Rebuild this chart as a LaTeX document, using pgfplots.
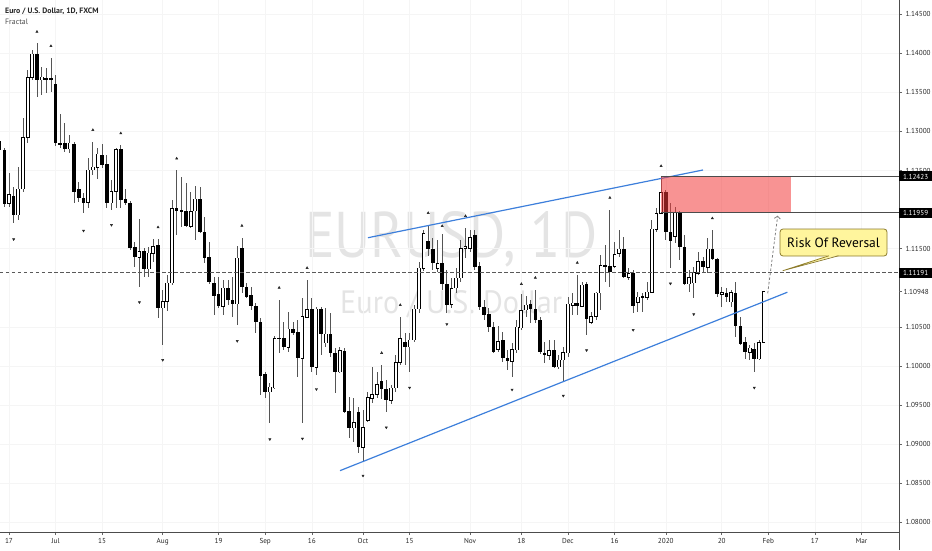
\documentclass[border=0pt]{standalone}
\usepackage{pgfplots}
\pgfplotsset{compat=1.18}
\usepackage{pgfplotstable}
\usepackage{fontspec}
\setmainfont{PT Sans}
\usetikzlibrary{arrows.meta}
\definecolor{wick}{HTML}{555555}
\definecolor{trend}{HTML}{3D7FDB}
\definecolor{zone}{HTML}{F23A3A}
\definecolor{callfill}{HTML}{FFF59D}
\definecolor{calldraw}{HTML}{8C7B2E}
\definecolor{wm}{HTML}{E4E4E4}

% i open high low close (trading-day index, Jun 17 2019 = 0)
\pgfplotstableread{
i o h l c
0 1.12085 1.12469 1.12033 1.12200
2 1.11931 1.12545 1.11867 1.12264
3 1.12264 1.13173 1.12225 1.12929
4 1.12929 1.13787 1.12853 1.13697
5 1.13697 1.14043 1.13659 1.13992
7 1.13659 1.13825 1.13467 1.13697
13 1.12776 1.12955 1.12725 1.12853
17 1.12085 1.12661 1.12021 1.12507
18 1.12507 1.12865 1.12443 1.12545
19 1.12545 1.12789 1.12392 1.12712
22 1.12085 1.12379 1.11995 1.12238
23 1.12238 1.12789 1.12021 1.12776
28 1.11393 1.11880 1.11009 1.11470
30 1.11240 1.11521 1.11137 1.11445
31 1.11445 1.11624 1.11329 1.11534
33 1.10741 1.10971 1.10267 1.10830
34 1.10830 1.11163 1.10702 1.11061
35 1.11061 1.12123 1.11035 1.12021
39 1.11790 1.12225 1.11765 1.11982
40 1.11982 1.12302 1.11611 1.12136
46 1.10766 1.11099 1.10651 1.10997
49 1.10792 1.11534 1.10523 1.11381
56 1.09665 1.09781 1.09269 1.09729
57 1.09717 1.10382 1.09704 1.10356
60 1.10241 1.10689 1.10177 1.10472
63 1.10101 1.10869 1.09269 1.10638
64 1.10625 1.11099 1.10613 1.10728
66 1.09985 1.10753 1.09883 1.10728
68 1.10293 1.10741 1.10241 1.10408
71 1.09921 1.10241 1.09909 1.10190
74 1.09205 1.09589 1.09025 1.09281
76 1.08961 1.09435 1.08769 1.09217
77 1.09307 1.09665 1.09281 1.09601
78 1.09589 1.09985 1.09525 1.09640
79 1.09640 1.09921 1.09589 1.09768
82 1.09563 1.09755 1.09512 1.09717
83 1.09717 1.10139 1.09665 1.10049
84 1.10049 1.10625 1.10011 1.10356
86 1.10241 1.10421 1.09921 1.10331
87 1.10331 1.10779 1.10305 1.10728
88 1.10728 1.11329 1.10677 1.11253
89 1.11253 1.11739 1.11214 1.11701
92 1.11253 1.11611 1.11201 1.11317
95 1.10792 1.11125 1.10741 1.10997
96 1.10997 1.11253 1.10933 1.11125
97 1.11125 1.11611 1.11073 1.11509
98 1.11509 1.11765 1.11381 1.11534
99 1.11509 1.11739 1.11457 1.11649
105 1.10216 1.10510 1.10177 1.10318
108 1.10062 1.10293 1.09857 1.10216
109 1.10203 1.10587 1.10165 1.10497
110 1.10485 1.10920 1.10459 1.10715
111 1.10715 1.10894 1.10625 1.10779
116 1.10139 1.10331 1.10075 1.10203
118 1.09985 1.10139 1.09960 1.10075
119 1.10075 1.10241 1.09806 1.10165
120 1.10165 1.10881 1.10113 1.10792
121 1.10779 1.10933 1.10651 1.10805
123 1.10766 1.11073 1.10753 1.11035
125 1.10561 1.10689 1.10536 1.10638
126 1.10638 1.10945 1.10587 1.10933
127 1.10933 1.11419 1.10715 1.11291
130 1.11278 1.11585 1.11253 1.11432
131 1.11432 1.11739 1.11393 1.11496
133 1.11137 1.11253 1.11099 1.11189
135 1.10805 1.10945 1.10689 1.10881
137 1.10869 1.11073 1.10843 1.10945
138 1.10945 1.11867 1.10933 1.11752
139 1.11752 1.12021 1.11713 1.11957
140 1.11957 1.12423 1.11944 1.12225
143 1.11662 1.12033 1.11573 1.11957
146 1.11048 1.11227 1.10945 1.11137
147 1.11061 1.11265 1.10869 1.11201
148 1.11189 1.11457 1.11163 1.11342
150 1.11265 1.11637 1.11189 1.11496
153 1.10920 1.11009 1.10753 1.10945
155 1.10817 1.10971 1.10753 1.10933
159 1.10177 1.10267 1.10075 1.10229
161 1.10088 1.10331 1.10075 1.10305
162 1.10305 1.10958 1.10293 1.10948
}\up

\pgfplotstableread{
i o h l c
-2 1.12878 1.12917 1.12737 1.12763
-1 1.12763 1.12789 1.12033 1.12072
1 1.12174 1.12289 1.11829 1.11931
6 1.13992 1.14133 1.13441 1.13659
8 1.13685 1.13813 1.13493 1.13672
9 1.13685 1.13941 1.13505 1.13672
10 1.13608 1.13723 1.12814 1.12853
11 1.12853 1.13224 1.12789 1.12840
12 1.12853 1.13109 1.12737 1.12776
14 1.12840 1.12865 1.12085 1.12225
15 1.12264 1.12353 1.12097 1.12149
16 1.12149 1.12213 1.11957 1.12085
20 1.12699 1.12840 1.12533 1.12571
21 1.12584 1.12699 1.12021 1.12085
24 1.12776 1.12827 1.12021 1.12123
25 1.12136 1.12264 1.12059 1.12085
26 1.12085 1.12110 1.11483 1.11509
27 1.11521 1.11585 1.11265 1.11393
29 1.11470 1.11509 1.11137 1.11240
32 1.11547 1.11624 1.10613 1.10741
36 1.12021 1.12507 1.11675 1.11982
37 1.11995 1.12417 1.11777 1.11982
38 1.11982 1.12341 1.11777 1.11790
41 1.12136 1.12289 1.11701 1.11713
42 1.11713 1.11905 1.11317 1.11381
43 1.11393 1.11585 1.11048 1.11073
44 1.11061 1.11137 1.10651 1.10894
45 1.10920 1.11137 1.10741 1.10766
47 1.10997 1.11099 1.10779 1.10843
48 1.10843 1.11137 1.10625 1.10792
50 1.11509 1.11637 1.10933 1.11009
51 1.11009 1.11061 1.10869 1.10881
52 1.10907 1.11009 1.10715 1.10766
53 1.10766 1.10805 1.10421 1.10561
54 1.10561 1.10613 1.09627 1.09870
55 1.09896 1.09921 1.09589 1.09665
58 1.10356 1.10843 1.10165 1.10344
59 1.10356 1.10561 1.10203 1.10241
61 1.10472 1.10561 1.10395 1.10421
62 1.10433 1.10587 1.09857 1.10101
65 1.10728 1.10869 1.09921 1.09985
67 1.10728 1.10753 1.10139 1.10408
69 1.10408 1.10677 1.10113 1.10165
70 1.10165 1.10229 1.09653 1.09921
72 1.10190 1.10229 1.09397 1.09409
73 1.09422 1.09601 1.09077 1.09205
75 1.09409 1.09473 1.08885 1.08961
80 1.09806 1.10011 1.09576 1.09704
81 1.09704 1.09819 1.09409 1.09563
85 1.10305 1.10421 1.10011 1.10241
90 1.11598 1.11790 1.11406 1.11496
91 1.11496 1.11637 1.11227 1.11317
93 1.11317 1.11688 1.10971 1.11048
94 1.11048 1.11227 1.10677 1.10779
100 1.11675 1.11739 1.11227 1.11265
101 1.11278 1.11329 1.10715 1.10753
102 1.10753 1.10843 1.10587 1.10651
103 1.10664 1.10741 1.10433 1.10497
104 1.10497 1.10561 1.10165 1.10177
106 1.10331 1.10433 1.10049 1.10101
107 1.10101 1.10203 1.09947 1.10062
112 1.10792 1.10843 1.10549 1.10728
113 1.10728 1.10971 1.10549 1.10587
114 1.10587 1.10625 1.10152 1.10177
115 1.10165 1.10305 1.10037 1.10139
117 1.10203 1.10331 1.09973 1.09985
122 1.10805 1.11163 1.10651 1.10766
124 1.11048 1.11073 1.10395 1.10600
128 1.11291 1.11547 1.11073 1.11265
129 1.11278 1.11995 1.11009 1.11201
132 1.11496 1.11649 1.11125 1.11137
134 1.11189 1.11227 1.10677 1.10766
136 1.10894 1.10933 1.10689 1.10869
141 1.12225 1.12251 1.11611 1.11713
142 1.11713 1.12085 1.11253 1.11598
144 1.11969 1.11982 1.11355 1.11521
145 1.11521 1.11675 1.11035 1.11048
149 1.11342 1.11393 1.11201 1.11265
151 1.11496 1.11739 1.11355 1.11368
152 1.11368 1.11381 1.10881 1.10920
154 1.10933 1.10997 1.10817 1.10881
156 1.10933 1.11073 1.10369 1.10510
157 1.10510 1.10625 1.10267 1.10280
158 1.10305 1.10369 1.10088 1.10177
160 1.10216 1.10293 1.09921 1.10088
}\down

\pgfplotsset{
  candle/.style={draw=none, mark=none, forget plot,
    error bars/.cd, y dir=both, y explicit, error mark=none,
    error bar style={#1}},
}

\begin{document}
\begin{tikzpicture}
\path[use as bounding box] (0pt,0pt) rectangle (932pt,550pt);

% watermark
\node[anchor=base west, inner sep=0pt, text=wm] at (305pt,292pt)
  {\resizebox{292pt}{46pt}{\fontsize{60}{60}\selectfont EURUSD, 1D}};
\node[anchor=base west, inner sep=0pt, text=wm] at (340pt,236.7pt)
  {\resizebox{222pt}{23pt}{\fontsize{30}{30}\selectfont Euro / U.S. Dollar}};

\begin{axis}[
  at={(0pt,18pt)}, anchor=south west,
  width=899pt, height=532pt, scale only axis,
  xmin=-1.932, xmax=191.07, ymin=1.07873, ymax=1.14683,
  axis x line=bottom, axis y line=right,
  axis line style={-, draw=black!70, line width=0.6pt},
  xtick={0,10,20,33,45,55,65,76,86,99,110,120,130,141,153,163,173,183},
  xticklabels={17,Jul,15,Aug,19,Sep,16,Oct,15,Nov,18,Dec,16,2020,20,Feb,17,Mar},
  ytick={1.08,1.085,1.09,1.095,1.1,1.105,1.115,1.125,1.13,1.135,1.14,1.145},
  scaled y ticks=false,
  yticklabel={\pgfmathprintnumber[fixed, fixed zerofill, precision=5]{\tick}},
  /pgf/number format/assume math mode=true,
  tick label style={font=\fontsize{7.2}{8}\selectfont, text=black!85},
  major tick length=3pt, tick align=outside,
  tick style={draw=black!60, line width=0.5pt},
  grid=major, major grid style={draw=black!4, line width=0.5pt},
  clip mode=individual,
]
% wicks
\addplot[candle={draw=wick, line width=0.8pt}]
  table[x=i, y expr={(\thisrow{h}+\thisrow{l})/2}, y error expr={(\thisrow{h}-\thisrow{l})/2}] {\up};
\addplot[candle={draw=wick, line width=0.8pt}]
  table[x=i, y expr={(\thisrow{h}+\thisrow{l})/2}, y error expr={(\thisrow{h}-\thisrow{l})/2}] {\down};
% down bodies
\addplot[candle={draw=black, line width=3.6pt}]
  table[x=i, y expr={(\thisrow{o}+\thisrow{c})/2}, y error expr={max(abs(\thisrow{o}-\thisrow{c})/2,0.00004)}] {\down};
% up bodies: black outline, then white inside
\addplot[candle={draw=black, line width=3.8pt}]
  table[x=i, y expr={(\thisrow{o}+\thisrow{c})/2}, y error expr={(\thisrow{c}-\thisrow{o})/2+0.00006}] {\up};
\addplot[candle={draw=white, line width=2.0pt}]
  table[x=i, y expr={(\thisrow{o}+\thisrow{c})/2}, y error expr={max((\thisrow{c}-\thisrow{o})/2-0.00006,0)}] {\up};

% fractals
\addplot[only marks, mark=triangle*, mark size=1.3pt, color=black!85] coordinates {
  (6,1.14277) (9,1.14094) (18,1.13019) (24,1.12977) (32,1.11774) (36,1.12654)
  (50,1.11794) (58,1.11000) (64,1.11253) (80,1.10165) (84,1.10779) (90,1.11957)
  (93,1.11790) (98,1.11918) (110,1.11048) (113,1.11128) (122,1.11320) (129,1.12152)
  (140,1.12558) (151,1.11889)};
\addplot[only marks, mark=triangle*, mark size=1.3pt, color=black!85, mark options={rotate=180}] coordinates {
  (1,1.11620) (16,1.11730) (22,1.11803) (28,1.10814) (33,1.10075) (49,1.10318)
  (56,1.09060) (63,1.09068) (66,1.09701) (76,1.08594) (81,1.09211) (86,1.09720)
  (94,1.10533) (108,1.09695) (119,1.09617) (124,1.10199) (134,1.10459) (142,1.11053)
  (147,1.10660) (160,1.09720)};

% trend lines
\addplot[trend, line width=1.2pt] coordinates {(77.07,1.11640) (149.0,1.12507)};
\addplot[trend, line width=1.2pt] coordinates {(71.06,1.08658) (167.1,1.10942)};

% level line
\addplot[black!65, line width=0.8pt, dash pattern=on 3.5pt off 2.5pt] coordinates {(-1.932,1.11191) (191.07,1.11191)};

% zone
\fill[zone, fill opacity=0.55] (axis cs:140,1.12423) rectangle (axis cs:167.9,1.11959);
\draw[black!70, line width=0.6pt] (axis cs:140,1.12423) -- (axis cs:191.07,1.12423);
\draw[black!70, line width=0.6pt] (axis cs:140,1.11959) -- (axis cs:191.07,1.11959);
\end{axis}

\draw[black!70, line width=0.6pt] (899pt,0pt) -- (899pt,18pt);

% title
\node[anchor=base west, inner sep=0pt, font=\fontsize{7.8}{9}\selectfont\bfseries, text=black!85] at (5pt,536pt) {Euro / U.S. Dollar, 1D, FXCM};
\node[anchor=base west, inner sep=0pt, font=\fontsize{7.8}{9}\selectfont, text=black!70] at (5pt,525pt) {Fractal};

% price labels
\foreach \yy/\tt in {373.5/1.12423, 337.2/1.11959, 277.1/1.11191}{
  \node[fill=black, text=white, font=\fontsize{7.2}{8}\selectfont, anchor=west,
        minimum height=10pt, minimum width=33pt, inner sep=1pt] at (899pt,\yy pt) {\tt};
}
\draw[black!60, line width=0.5pt] (899pt,258.3pt) -- (902pt,258.3pt);
\node[anchor=west, inner sep=1pt, font=\fontsize{7.2}{8}\selectfont, text=black!85] at (902.5pt,258.3pt) {1.10948};

% dashed projection arrow
\draw[black!50, line width=0.8pt, dash pattern=on 2.5pt off 2pt, -{Straight Barb[length=2.5pt,width=6pt]}]
  (767.7pt,256.7pt) -- (777.7pt,334.3pt);

% callout
\draw[calldraw, line width=0.8pt, fill=callfill, rounded corners=3pt] (780pt,294pt) rectangle (887pt,321pt);
\fill[callfill] (829pt,295pt) -- (782.7pt,279.3pt) -- (838.5pt,295pt) -- cycle;
\draw[calldraw, line width=0.7pt] (829pt,294.2pt) -- (782.7pt,279.3pt) -- (838.5pt,294.2pt);
\node[font=\fontsize{13.5}{15}\selectfont, text=black] at (833.5pt,307.5pt) {Risk Of Reversal};
\end{tikzpicture}
\end{document}
